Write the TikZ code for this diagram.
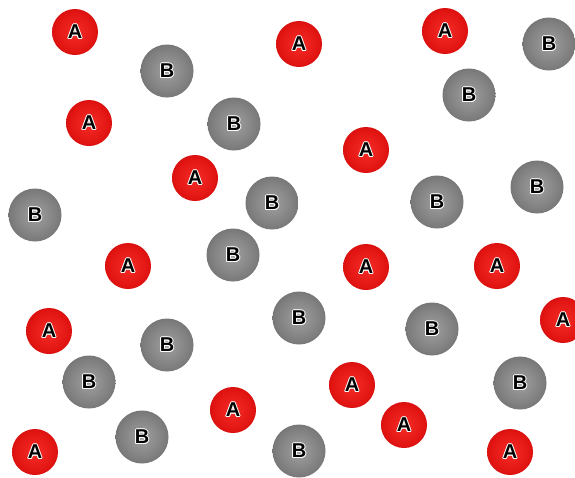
\documentclass[tikz,border=0pt]{standalone}
\usepackage{fontspec}
\setmainfont{Liberation Sans}
\definecolor{rA}{RGB}{245,45,40}
\definecolor{rB}{RGB}{225,20,18}
\definecolor{rC}{RGB}{175,4,4}
\definecolor{rD}{RGB}{110,0,0}
\definecolor{gA}{RGB}{160,160,160}
\definecolor{gB}{RGB}{125,125,125}
\definecolor{gC}{RGB}{85,85,85}
\definecolor{gD}{RGB}{45,45,45}
\pgfdeclareradialshading{redballsh}{\pgfpoint{0bp}{0bp}}{color(0bp)=(rA); color(22bp)=(rB); color(42bp)=(rC); color(50bp)=(rD)}
\pgfdeclareradialshading{greyballsh}{\pgfpoint{0bp}{0bp}}{color(0bp)=(gA); color(22bp)=(gB); color(42bp)=(gC); color(50bp)=(gD)}
\newcommand{\glowcopy}[3]{\rlap{\hspace{#1}\raisebox{#2}{\color{white}#3}}}
\newcommand{\glowtext}[1]{\leavevmode
  \glowcopy{1pt}{0pt}{#1}\glowcopy{-1pt}{0pt}{#1}%
  \glowcopy{0pt}{1pt}{#1}\glowcopy{0pt}{-1pt}{#1}%
  \glowcopy{0.7pt}{0.7pt}{#1}\glowcopy{-0.7pt}{0.7pt}{#1}%
  \glowcopy{0.7pt}{-0.7pt}{#1}\glowcopy{-0.7pt}{-0.7pt}{#1}%
  #1}
\tikzset{
  lbl/.style={inner sep=0pt,font=\fontsize{20}{20}\selectfont\bfseries},
  aball/.style={circle,minimum size=46pt,inner sep=0pt,shading=redballsh},
  bball/.style={circle,minimum size=53pt,inner sep=0pt,shading=greyballsh},
}
\newcommand{\ballA}[2]{%
  \node[aball] (#1) at (#2) {};
  \node[lbl] (#1t) at (#1.center) {\glowtext{A}};}
\newcommand{\ballB}[2]{%
  \node[bball] (#1) at (#2) {};
  \node[lbl] (#1t) at (#1.center) {\glowtext{B}};}
\begin{document}
\begin{tikzpicture}[x=1pt,y=-1pt]
\useasboundingbox[fill=white] (0,0) rectangle (575,477);
\begin{scope}
\clip (0,0) rectangle (575,477);
\ballA{a1}{75,32}
\ballA{a2}{299,44}
\ballA{a3}{445,31}
\ballA{a4}{89,123}
\ballA{a5}{366,150}
\ballA{a6}{195,178}
\ballA{a7}{128,266}
\ballA{a8}{366,267}
\ballA{a9}{497,266}
\ballA{a10}{49,331}
\ballA{a11}{563,320}
\ballA{a12}{352,385}
\ballA{a13}{233,410}
\ballA{a14}{404,425}
\ballA{a15}{35,452}
\ballA{a16}{510,452}
\ballB{b1}{167,71}
\ballB{b2}{549,44}
\ballB{b3}{469,95}
\ballB{b4}{234,124}
\ballB{b5}{537,187}
\ballB{b6}{272,203}
\ballB{b7}{437,202}
\ballB{b8}{35,215}
\ballB{b9}{233,255}
\ballB{b10}{299,318}
\ballB{b11}{432,329}
\ballB{b12}{167,345}
\ballB{b13}{89,382}
\ballB{b14}{520,383}
\ballB{b15}{142,437}
\ballB{b16}{299,451}
\end{scope}
\end{tikzpicture}
\end{document}
